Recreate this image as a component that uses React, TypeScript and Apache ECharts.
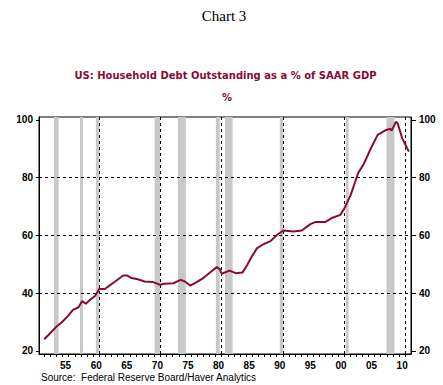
import React, { useEffect, useRef } from "react";
import * as echarts from "echarts";

// Time (decimal year) and household debt as % of SAAR GDP
const years = [
  1952.0, 1952.9, 1954.0, 1954.85, 1955.9, 1956.7, 1957.6, 1958.2, 1958.8, 1959.5,
  1960.3, 1961.0, 1961.9, 1962.6, 1963.6, 1964.9, 1965.5, 1966.3, 1967.3, 1968.4,
  1969.8, 1970.9, 1971.7, 1973.1, 1974.3, 1975.0, 1975.9, 1976.9, 1978.0, 1979.1,
  1980.2, 1980.7, 1981.0, 1982.3, 1983.3, 1984.4, 1985.2, 1986.0, 1986.8, 1987.9,
  1988.9, 1990.1, 1991.1, 1992.7, 1994.1, 1995.5, 1996.3, 1997.9, 1999.0, 2000.4,
  2001.0, 2002.1, 2003.3, 2004.3, 2005.4, 2006.5, 2007.9, 2008.6, 2008.8, 2009.5,
  2009.8, 2010.5, 2011.6,
];
const debtPct = [
  24.0, 25.9, 28.4, 29.8, 32.1, 34.2, 35.1, 37.2, 36.3, 37.7,
  39.0, 41.4, 41.4, 42.5, 44.0, 46.1, 46.1, 45.2, 44.8, 44.0,
  43.8, 42.9, 43.2, 43.4, 44.6, 44.0, 42.6, 43.8, 45.2, 47.1,
  49.0, 48.3, 46.7, 47.8, 46.9, 47.1, 49.8, 52.9, 55.6, 57.0,
  57.9, 60.2, 61.7, 61.3, 61.7, 63.9, 64.6, 64.6, 66.0, 67.1,
  69.1, 74.0, 81.5, 85.0, 90.2, 94.8, 96.5, 96.9, 96.3, 99.4,
  98.6, 93.7, 89.0,
];

// Recession shading (start, end) in decimal years
const recessionStarts = [1953.6, 1957.85, 1960.45, 1970.05, 1973.85, 1980.06, 1981.55, 1990.5, 2001.3, 2007.95];
const recessionEnds = [1954.35, 1958.35, 1961.05, 1970.95, 1975.15, 1980.7, 1982.8, 1991.05, 2001.75, 2009.25];

// Axis labels
const xLabelYears = [1955, 1960, 1965, 1970, 1975, 1980, 1985, 1990, 1995, 2000, 2005, 2010];
const decadeLines = [1961, 1971, 1981, 1991, 2001, 2011];
const yTicks = [20, 40, 60, 80, 100];
const yGridLines = [40, 60, 80];

const TITLE = "Chart 3";
const SUBTITLE = "US: Household Debt Outstanding as a % of SAAR GDP";
const UNIT = "%";
const SOURCE = "Source:  Federal Reserve Board/Haver Analytics";

export default function App() {
  const ref = useRef<HTMLDivElement>(null);
  useEffect(() => {
    if (!ref.current) return;
    const chart = echarts.init(ref.current, undefined, { renderer: "svg" });
    const lineData = years.map((y, i) => [y, debtPct[i]]);
    const yearTicks: number[] = [];
    for (let y = 1952; y <= 2011; y++) yearTicks.push(y);
    const axisFont = { fontFamily: "Liberation Sans, Arial, sans-serif", fontWeight: "bold" as const, fontSize: 10, color: "#000" };
    const yAxisCommon = {
      type: "value" as const,
      min: 18.9,
      max: 101,
      splitLine: { show: false },
      axisLine: { show: true, lineStyle: { color: "#000", width: 1 } },
    };
    chart.setOption({
      animation: false,
      backgroundColor: "#fff",
      grid: {
        left: 39,
        right: 32,
        top: 117,
        bottom: 31,
        show: true,
        borderColor: "#000",
        borderWidth: 1,
        backgroundColor: "transparent",
      },
      xAxis: {
        type: "value",
        min: 1951.15,
        max: 2011.95,
        splitLine: { show: false },
        axisLine: { show: true, onZero: false, lineStyle: { color: "#000", width: 1 } },
        axisTick: { show: true, length: 3, customValues: yearTicks, lineStyle: { color: "#000" } },
        axisLabel: {
          ...axisFont,
          margin: 6,
          customValues: xLabelYears.map((y) => y + 0.5),
          formatter: (v: number) => {
            const y = Math.floor(v);
            return String(y % 100).padStart(2, "0");
          },
        },
      },
      yAxis: [
        {
          ...yAxisCommon,
          position: "left",
          axisTick: { show: true, length: 3, customValues: yTicks, lineStyle: { color: "#000" } },
          axisLabel: { ...axisFont, margin: 6, customValues: yTicks },
        },
        {
          ...yAxisCommon,
          position: "right",
          axisTick: { show: true, length: 5, customValues: yTicks, lineStyle: { color: "#000" } },
          axisLabel: { ...axisFont, margin: 8, customValues: yTicks },
        },
      ],
      series: [
        {
          type: "line",
          data: [],
          silent: true,
          markArea: {
            silent: true,
            itemStyle: { color: "#C8C8C8" },
            data: recessionStarts.map((s, i) => [{ xAxis: s }, { xAxis: recessionEnds[i] }]),
          },
          markLine: {
            silent: true,
            symbol: "none",
            label: { show: false },
            lineStyle: { color: "#000", type: [3, 3], width: 1 },
            data: [
              ...yGridLines.map((v) => ({ yAxis: v })),
              ...decadeLines.map((v) => ({ xAxis: v })),
            ],
          },
        },
        {
          type: "line",
          data: lineData,
          showSymbol: false,
          symbol: "none",
          lineStyle: { color: "#8B0A34", width: 2 },
          z: 5,
        },
      ],
      graphic: [
        {
          type: "text",
          x: 224,
          y: 15.5,
          style: {
            text: TITLE,
            font: "15px 'Liberation Serif', 'Times New Roman', serif",
            fill: "#000",
            textAlign: "center",
            textVerticalAlign: "middle",
          },
        },
        {
          type: "text",
          x: 225.5,
          y: 75,
          style: {
            text: SUBTITLE,
            font: "bold 10px 'DejaVu Sans', sans-serif",
            fill: "#8B0A34",
            textAlign: "center",
            textVerticalAlign: "middle",
          },
        },
        {
          type: "text",
          x: 227,
          y: 97.5,
          style: {
            text: UNIT,
            font: "bold 10px 'DejaVu Sans', sans-serif",
            fill: "#8B0A34",
            textAlign: "center",
            textVerticalAlign: "middle",
          },
        },
        {
          type: "text",
          x: 41,
          y: 377,
          style: {
            text: SOURCE,
            font: "10px 'Liberation Sans', Arial, sans-serif",
            fill: "#000",
            textAlign: "left",
            textVerticalAlign: "middle",
          },
        },
      ],
    });
    return () => chart.dispose();
  }, []);
  return <div ref={ref} style={{ width: 443, height: 385, position: "absolute", left: 0, top: 0 }} />;
}
